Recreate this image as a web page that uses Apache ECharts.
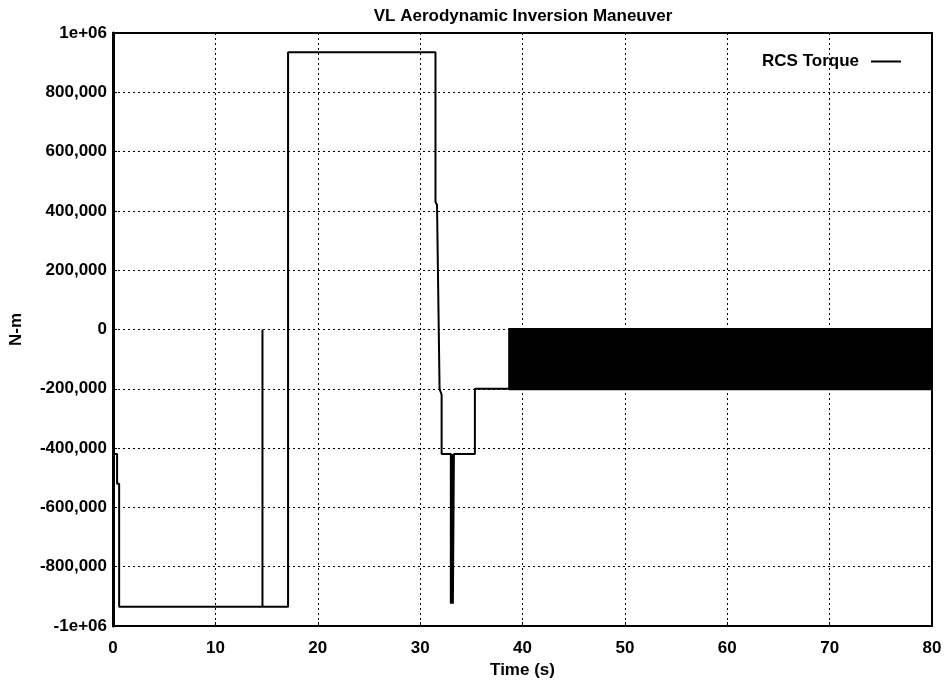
<!DOCTYPE html>
<html>
<head>
<meta charset="utf-8">
<script src="https://cdn.jsdelivr.net/npm/echarts@6/dist/echarts.min.js"></script>
<style>html,body{margin:0;padding:0;background:#fff}#c{width:948px;height:680px}</style>
</head>
<body>
<div id="c"></div>
<script>
// ---- data ----
const chartTitle = 'VL Aerodynamic Inversion Maneuver';
const seriesName = 'RCS Torque';
const xTicks = [0, 10, 20, 30, 40, 50, 60, 70, 80];
const yTicks = [-1000000, -800000, -600000, -400000, -200000, 0, 200000, 400000, 600000, 800000, 1000000];
const yTickLabels = ['-1e+06', '-800,000', '-600,000', '-400,000', '-200,000', '0', '200,000', '400,000', '600,000', '800,000', '1e+06'];

// time (s) and torque (N-m) of the traced step signal
const timeS = [0, 0.4, 0.4, 0.6, 0.6, 14.6, 14.6, 14.6, 17.1, 17.1, 31.5, 31.5, 31.65, 31.9, 32.1, 32.1,
               33.0, 33.0, 33.1, 33.1, 33.2, 33.2, 33.3, 33.3, 35.35, 35.35, 38.7, 38.7];
const torque = [-420000, -420000, -520000, -520000, -935000, -935000, 0, -935000, -935000, 935000, 935000, 430000, 420000, -200000, -220000, -420000,
               -420000, -925000, -925000, -420000, -420000, -925000, -925000, -420000, -420000, -200000, -200000, 5000];

// high-frequency chattering band after ~38.7 s
const bandTime = [38.7, 80];
const bandTorque = [-205000, 5000];

const lineData = timeS.map((t, i) => [t, torque[i]]);
const labelMap = {};
yTicks.forEach((v, i) => { labelMap[v] = yTickLabels[i]; });

const font = 'Liberation Sans, Arial, Helvetica, sans-serif';
const chart = echarts.init(document.getElementById('c'), null, { renderer: 'canvas' });
chart.setOption({
  animation: false,
  backgroundColor: '#fff',
  title: {
    text: chartTitle, left: 518, top: 3, textAlign: 'center',
    textStyle: { fontFamily: font, fontSize: 17, fontWeight: 'bold', color: '#000' }
  },
  legend: {
    data: [seriesName], right: 42, top: 48, align: 'right',
    icon: 'rect', itemWidth: 30, itemHeight: 2,
    textStyle: { fontFamily: font, fontSize: 17, fontWeight: 'bold', color: '#000', padding: [0, 7, 0, 0] }
  },
  grid: { left: 113, right: 16, top: 33, bottom: 54, outerBoundsMode: 'none', containLabel: false,
    show: true, borderColor: '#000', borderWidth: 2, backgroundColor: 'transparent' },
  xAxis: {
    type: 'value', min: 0, max: 80, interval: 10,
    name: 'Time (s)', nameLocation: 'middle', nameGap: 33,
    nameTextStyle: { fontFamily: font, fontSize: 17, fontWeight: 'bold', color: '#000' },
    axisLine: { show: true, onZero: false, lineStyle: { color: '#000', width: 2 } },
    axisTick: { show: true, inside: true, length: 4, lineStyle: { color: '#000' } },
    axisLabel: { fontFamily: font, fontSize: 17, fontWeight: 'bold', color: '#000', margin: 14 },
    splitLine: { show: true, lineStyle: { color: '#000', width: 1, type: [2, 3] } }
  },
  yAxis: {
    type: 'value', min: -1000000, max: 1000000, interval: 200000,
    name: 'N-m', nameLocation: 'middle', nameGap: 88, nameRotate: 90,
    nameTextStyle: { fontFamily: font, fontSize: 17, fontWeight: 'bold', color: '#000' },
    axisLine: { show: true, onZero: false, lineStyle: { color: '#000', width: 3 } },
    axisTick: { show: true, inside: true, length: 4, lineStyle: { color: '#000' } },
    axisLabel: { fontFamily: font, fontSize: 17, fontWeight: 'bold', color: '#000', margin: 6,
      formatter: v => labelMap[v] !== undefined ? labelMap[v] : String(v) },
    splitLine: { show: true, lineStyle: { color: '#000', width: 1, type: [2, 3] } }
  },
  series: [{
    name: seriesName, type: 'line', data: lineData,
    showSymbol: false, symbol: 'none',
    lineStyle: { color: '#000', width: 2 },
    itemStyle: { color: '#000' },
    markArea: {
      silent: true,
      itemStyle: { color: '#000', opacity: 1 },
      data: [[{ xAxis: bandTime[0], yAxis: bandTorque[0] }, { xAxis: bandTime[1], yAxis: bandTorque[1] }]]
    }
  }]
});
</script>
</body>
</html>
